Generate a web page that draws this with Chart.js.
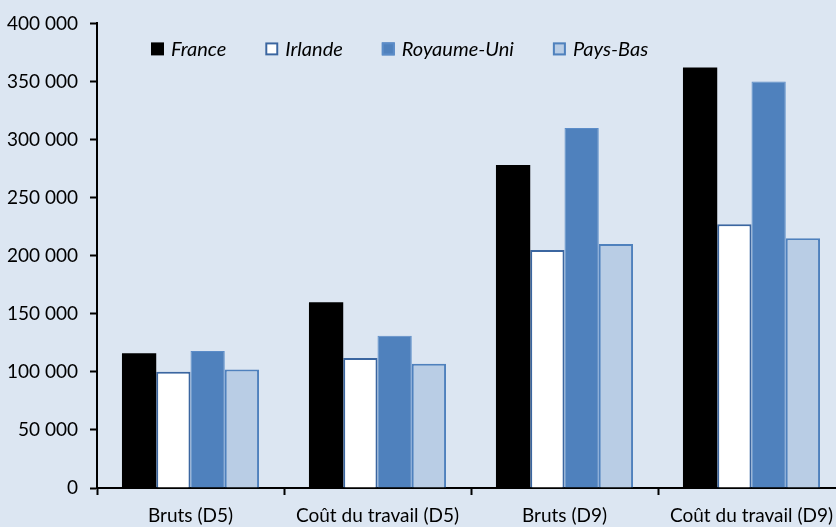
<!DOCTYPE html>
<html>
<head>
<meta charset="utf-8">
<script src="https://cdn.jsdelivr.net/npm/chart.js@4.4.1/dist/chart.umd.min.js"></script>
<style>
    html, body { margin: 0; padding: 0; overflow: hidden; background: #dce6f2; }
    #wrap { width: 852px; height: 527px; position: relative; }
</style>
</head>
<body>
<div id="wrap"><canvas id="salaryChart"></canvas></div>
<script>
// --- Data ---
const categories = ['Bruts (D5)', 'Coût du travail (D5)', 'Bruts (D9)', 'Coût du travail (D9)'];
const france = [116000, 160000, 278000, 362000];
const irlande = [100000, 112000, 205000, 227000];
const royaumeUni = [118000, 131000, 310000, 350000];
const paysBas = [102000, 107000, 210000, 215000];

const FONT = 'Lato, "Open Sans", sans-serif';

// Legend drawn inside the plot area, on one row (Excel style)
const insideLegend = {
    id: 'insideLegend',
    afterDraw(chart) {
        const ctx = chart.ctx;
        const area = chart.chartArea;
        let x = area.left + 54;
        const y = area.top + 19;
        const box = 13;
        ctx.save();
        ctx.font = 'italic 20px ' + FONT;
        ctx.textBaseline = 'middle';
        chart.data.datasets.forEach(ds => {
            ctx.fillStyle = ds.backgroundColor;
            ctx.fillRect(x, y, box, box);
            if (ds.borderWidth > 0) {
                ctx.strokeStyle = ds.borderColor;
                ctx.lineWidth = 2;
                ctx.strokeRect(x + 1, y + 1, box - 2, box - 2);
            }
            ctx.fillStyle = '#000';
            ctx.fillText(ds.label, x + box + 7, y + box / 2 + 1);
            x += box + 7 + ctx.measureText(ds.label).width + 39;
        });
        ctx.restore();
    }
};

const ctx = document.getElementById('salaryChart').getContext('2d');

new Chart(ctx, {
    type: 'bar',
    data: {
        labels: categories,
        datasets: [
            { label: 'France', data: france, backgroundColor: '#000000', borderWidth: 0 },
            { label: 'Irlande', data: irlande, backgroundColor: '#ffffff', borderColor: '#3b66a0', borderWidth: 2 },
            { label: 'Royaume-Uni', data: royaumeUni, backgroundColor: '#4f81bd', borderColor: '#5b8cc8', borderWidth: 1 },
            { label: 'Pays-Bas', data: paysBas, backgroundColor: '#b9cde5', borderColor: '#4f81bd', borderWidth: 2 }
        ]
    },
    options: {
        responsive: true,
        maintainAspectRatio: false,
        animation: false,
        categoryPercentage: 0.733,
        barPercentage: 1,
        layout: { padding: { top: 21, right: 7, left: 0, bottom: 0 } },
        plugins: {
            legend: { display: false },
            tooltip: { enabled: false }
        },
        scales: {
            y: {
                min: 0,
                max: 400000,
                afterFit(scale) { scale.width = 97; },
                ticks: {
                    stepSize: 50000,
                    color: '#000',
                    padding: 12,
                    font: { family: FONT, size: 19 },
                    callback: v => v.toLocaleString('fr-FR').replace(/\s/g, ' ')
                },
                grid: { drawOnChartArea: false, tickLength: 7, tickColor: '#000', tickWidth: 2 },
                border: { color: '#000', width: 2 }
            },
            x: {
                afterFit(scale) { scale.height = 39; },
                ticks: {
                    color: '#000',
                    padding: 9,
                    maxRotation: 0,
                    font: { family: FONT, size: 19 }
                },
                grid: { offset: true, drawOnChartArea: false, tickLength: 7, tickColor: '#000', tickWidth: 2 },
                border: { color: '#000', width: 2 }
            }
        }
    },
    plugins: [insideLegend]
});
</script>
</body>
</html>
